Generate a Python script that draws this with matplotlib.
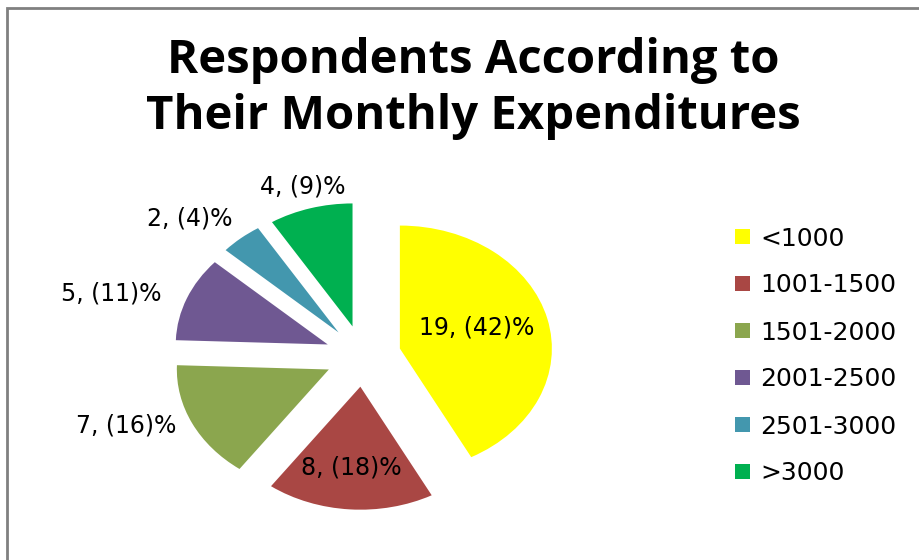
import matplotlib
matplotlib.use("Agg")
import matplotlib.pyplot as plt
import numpy as np
from matplotlib.patches import Rectangle

categories = ["<1000", "1001-1500", "1501-2000", "2001-2500", "2501-3000", ">3000"]
counts = [19, 8, 7, 5, 2, 4]
percents = [42, 18, 16, 11, 4, 9]
colors = ["#FFFF00", "#A94744", "#8BA64E", "#6F5892", "#4397AE", "#00B050"]

label_dist = [0.78, 0.91, 1.66, 1.73, 1.60, 1.43]
label_dang = [3, -1, -6, 5, 5.5, 0]

W, H = 920, 560
fig = plt.figure(figsize=(W / 100, H / 100), dpi=100)
fig.patch.set_facecolor("white")

# pie axes mapped so pie center is at pixel (363,356), rx=152, ry=123
cx, cy, rx, ry = 363, 356, 152, 123
ax = fig.add_axes([0, 0, 1, 1])
wedges, _ = ax.pie(counts, colors=colors, startangle=90, counterclock=False,
                   explode=[0.25] * len(counts),
                   wedgeprops=dict(linewidth=0))
ax.set_aspect("auto")
ax.set_xlim(-cx / rx, (W - cx) / rx)
ax.set_ylim(-(H - cy) / ry, cy / ry)
ax.axis("off")

for w, c, p, d, da in zip(wedges, counts, percents, label_dist, label_dang):
    mid = np.deg2rad((w.theta1 + w.theta2) / 2 + da)
    ax.text(d * np.cos(mid), d * np.sin(mid), f"{c}, ({p})%",
            ha="center", va="center", fontsize=17, color="black",
            family="DejaVu Sans")

# title
fig.text(473 / W, 1 - 60 / H, "Respondents According to", ha="center", va="center",
         fontsize=34, fontweight="bold", family="Open Sans")
fig.text(473 / W, 1 - 117 / H, "Their Monthly Expenditures", ha="center", va="center",
         fontsize=34, fontweight="bold", family="Open Sans")

# legend
leg = fig.legend(wedges, categories, loc="upper left",
                 bbox_to_anchor=(713 / W, 1 - 204 / H), frameon=False,
                 prop=dict(family="DejaVu Sans", size=18),
                 handlelength=0.58, handleheight=0.58, handletextpad=0.42,
                 labelspacing=0.92)

# outer border
fig.add_artist(Rectangle((7.5 / W, -0.1), 1.2, 1 + 0.1 - 7.5 / H,
                         transform=fig.transFigure, fill=False,
                         edgecolor="#808080", linewidth=2))

fig.savefig("out.png", dpi=100)
